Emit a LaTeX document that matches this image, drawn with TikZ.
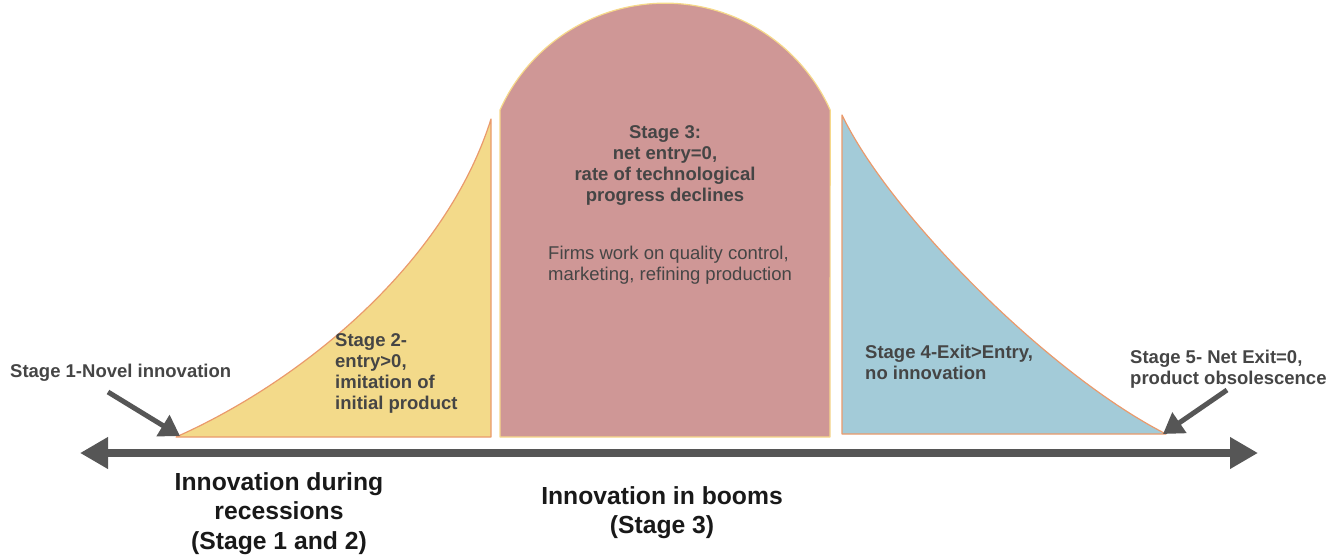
\documentclass[tikz,border=0pt]{standalone}
\usepackage{fontspec}
\setmainfont{Liberation Sans}
\usetikzlibrary{arrows.meta}
\definecolor{axisgray}{HTML}{565656}
\definecolor{labelgray}{HTML}{454545}
\definecolor{stageyellow}{HTML}{F3DA8A}
\definecolor{stagepink}{HTML}{CF9796}
\definecolor{stageblue}{HTML}{A3CBD8}
\definecolor{edgeorange}{HTML}{EA9A6C}
\definecolor{edgeyellow}{HTML}{F6D98A}
\tikzset{
  stagelabel/.style={font=\bfseries\fontsize{18.5}{21}\selectfont, text=labelgray, inner sep=0pt, align=left},
  notelabel/.style={font=\fontsize{18.5}{21}\selectfont, text=labelgray, inner sep=0pt, align=left},
  phaselabel/.style={font=\bfseries\fontsize{24.7}{29.5}\selectfont, text=black!90, inner sep=0pt, align=center},
  axisline/.style={draw=axisgray, line width=8pt, {Triangle[length=28pt,width=30pt]}-{Triangle[length=28pt,width=30pt]}},
  pointer/.style={draw=axisgray, line width=5pt, -{Triangle[length=20pt,width=24pt]}},
  curvearea/.style={line width=1.2pt, line join=round}
}
\begin{document}
\begin{tikzpicture}[x=1pt,y=-1pt]
\useasboundingbox (0,0) rectangle (1340,557);

% Stage 2 area: rising curve
\path[curvearea, fill=stageyellow, draw=edgeorange]
  (176,437) .. controls (300,382) and (445,265) .. (491,119) -- (491,437) -- cycle;

% Stage 3 area: arched block
\path[curvearea, fill=stagepink, draw=edgeyellow]
  (500,437) -- (500,110) arc[start angle=204.2, end angle=335.8, radius=181] -- (830,437) -- cycle;

% Stage 4 area: falling curve
\path[curvearea, fill=stageblue, draw=edgeorange]
  (842,434) -- (842,115) .. controls (890,215) and (1050,375) .. (1166,434) -- cycle;

% time axis
\coordinate (axL) at (80,453);
\coordinate (axR) at (1258,453);
\draw[axisline] (axL) -- (axR);

% labels
\node[stagelabel, anchor=west] (s1) at (10,373) {Stage 1-Novel innovation};
\node[stagelabel, anchor=north west] (s2) at (335,333) {Stage 2-\\entry>0,\\imitation of\\initial product};
\node[stagelabel, align=center, anchor=north] (s3) at (665,125) {Stage 3:\\net entry=0,\\rate of technological\\progress declines};
\node[notelabel, anchor=north west] (s3note) at (548,246) {Firms work on quality control,\\marketing, refining production};
\node[stagelabel, anchor=north west] (s4) at (865,345) {Stage 4-Exit>Entry,\\no innovation};
\node[stagelabel, anchor=north west] (s5) at (1130,350) {Stage 5- Net Exit=0,\\product obsolescence};

\node[phaselabel, anchor=north] (rec) at (279,472) {Innovation during\\recessions\\(Stage 1 and 2)};
\node[phaselabel, anchor=north] (boom) at (662,486) {Innovation in booms\\(Stage 3)};

% pointers to the curve ends
\coordinate (p1s) at (108,392);
\coordinate (p1e) at (180,436);
\coordinate (p5s) at (1227,390);
\coordinate (p5e) at (1163,434);
\draw[pointer] (p1s) -- (p1e);
\draw[pointer] (p5s) -- (p5e);
\end{tikzpicture}
\end{document}
